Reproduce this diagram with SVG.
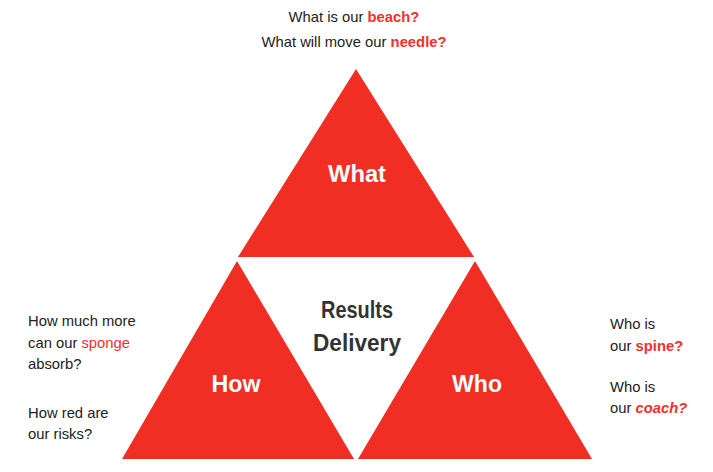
<svg xmlns="http://www.w3.org/2000/svg" width="713" height="472" viewBox="0 0 713 472">
<style>
.tri{fill:#f02e24}
.big{font-family:"Liberation Sans",Arial,sans-serif;font-weight:bold;font-size:24px;text-anchor:middle}
.w{fill:#ffffff}
.d{fill:#333333}
.q{font-family:"Liberation Sans",Arial,sans-serif;font-size:14.8px;fill:#222222}
.r{fill:#f2302a}
.b{font-weight:bold}
</style>
<rect width="713" height="472" fill="#ffffff"/>
<g id="what">
<polygon class="tri" points="356,69 474,257 238,257"/>
<text class="big w" x="357" y="182" textLength="58" lengthAdjust="spacingAndGlyphs">What</text>
</g>
<g id="how">
<polygon class="tri" points="237,261 354,459 122,459"/>
<text class="big w" x="236" y="392" textLength="49" lengthAdjust="spacingAndGlyphs">How</text>
</g>
<g id="who">
<polygon class="tri" points="475,261 592,459 358,459"/>
<text class="big w" x="477" y="392" textLength="50" lengthAdjust="spacingAndGlyphs">Who</text>
</g>
<g id="results">
<text class="big d" x="357" y="318" textLength="72" lengthAdjust="spacingAndGlyphs">Results</text>
<text class="big d" x="357" y="351" textLength="88" lengthAdjust="spacingAndGlyphs">Delivery</text>
</g>
<g id="connectors"></g>
<g id="top-questions">
<text class="q" x="354" y="22" text-anchor="middle">What is our <tspan class="r b">beach?</tspan></text>
<text class="q" x="354" y="47" text-anchor="middle">What will move our <tspan class="r b">needle?</tspan></text>
</g>
<g id="left-questions">
<text class="q" x="28" y="326">How much more</text>
<text class="q" x="28" y="348">can our <tspan class="r">sponge</tspan></text>
<text class="q" x="28" y="369">absorb?</text>
<text class="q" x="28" y="418">How red are</text>
<text class="q" x="28" y="439">our risks?</text>
</g>
<g id="right-questions">
<text class="q" x="610" y="329">Who is</text>
<text class="q" x="610" y="351">our <tspan class="r b">spine?</tspan></text>
<text class="q" x="610" y="392">Who is</text>
<text class="q" x="610" y="413">our <tspan class="r b" font-style="italic">coach?</tspan></text>
</g>
</svg>
